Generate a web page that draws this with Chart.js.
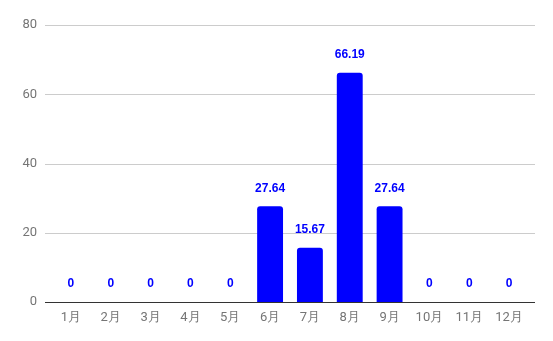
<!DOCTYPE html>
<html>
<head>
<meta charset="utf-8">
<script src="https://cdn.jsdelivr.net/npm/chart.js@4"></script>
<style>
  html, body { margin: 0; padding: 0; background: #fff; }
  #wrap { width: 553px; height: 341px; }
</style>
</head>
<body>
<div id="wrap"><canvas id="chart"></canvas></div>
<script>
// data
const months = ['1月', '2月', '3月', '4月', '5月', '6月', '7月', '8月', '9月', '10月', '11月', '12月'];
const values = [0, 0, 0, 0, 0, 27.64, 15.67, 66.19, 27.64, 0, 0, 0];
const yTicks = [0, 20, 40, 60, 80];

// gridlines reach a little past the bars, like the original
const gridPlugin = {
  id: 'wideGrid',
  beforeDatasetsDraw(chart) {
    const { ctx, chartArea, scales } = chart;
    ctx.save();
    ctx.lineWidth = 1;
    yTicks.forEach(function(t) {
      if (t === 0) return;
      const y = Math.round(scales.y.getPixelForValue(t)) + 0.5;
      ctx.strokeStyle = '#cccccc';
      ctx.beginPath();
      ctx.moveTo(chartArea.left - 6, y);
      ctx.lineTo(chartArea.right + 6, y);
      ctx.stroke();
    });
    ctx.restore();
  },
  afterDatasetsDraw(chart) {
    const { ctx, chartArea, scales } = chart;
    const y = Math.round(scales.y.getPixelForValue(0)) + 0.5;
    ctx.save();
    ctx.strokeStyle = '#333333';
    ctx.lineWidth = 1;
    ctx.beginPath();
    ctx.moveTo(chartArea.left - 6, y);
    ctx.lineTo(chartArea.right + 6, y);
    ctx.stroke();

    // value labels above each bar
    ctx.fillStyle = '#0000ff';
    ctx.font = 'bold 12px "Liberation Sans", Arial, sans-serif';
    ctx.textAlign = 'center';
    ctx.textBaseline = 'middle';
    chart.getDatasetMeta(0).data.forEach(function(bar, i) {
      ctx.fillText(String(values[i]), bar.x, bar.y - 18);
    });
    ctx.restore();
  }
};

new Chart(document.getElementById('chart'), {
  type: 'bar',
  data: {
    labels: months,
    datasets: [{
      data: values,
      backgroundColor: '#0000ff',
      borderRadius: { topLeft: 3, topRight: 3 },
      borderSkipped: 'bottom',
      categoryPercentage: 1,
      barPercentage: 0.65
    }]
  },
  options: {
    responsive: true,
    maintainAspectRatio: false,
    animation: false,
    events: [],
    layout: { padding: { top: 25, right: 24, left: 0, bottom: 0 } },
    plugins: {
      legend: { display: false },
      tooltip: { enabled: false }
    },
    scales: {
      x: {
        grid: { display: false, drawTicks: false },
        border: { display: false },
        ticks: {
          color: '#757575',
          font: { family: 'Roboto', size: 13 },
          padding: 8,
          maxRotation: 0,
          autoSkip: false
        },
        afterFit(scale) { scale.height = 39; }
      },
      y: {
        min: 0,
        max: 80,
        grid: { display: false, drawTicks: false },
        border: { display: false },
        ticks: {
          stepSize: 20,
          color: '#757575',
          font: { family: 'Roboto', size: 13 },
          padding: 14
        },
        afterFit(scale) { scale.width = 51; }
      }
    }
  },
  plugins: [gridPlugin]
});
</script>
</body>
</html>
